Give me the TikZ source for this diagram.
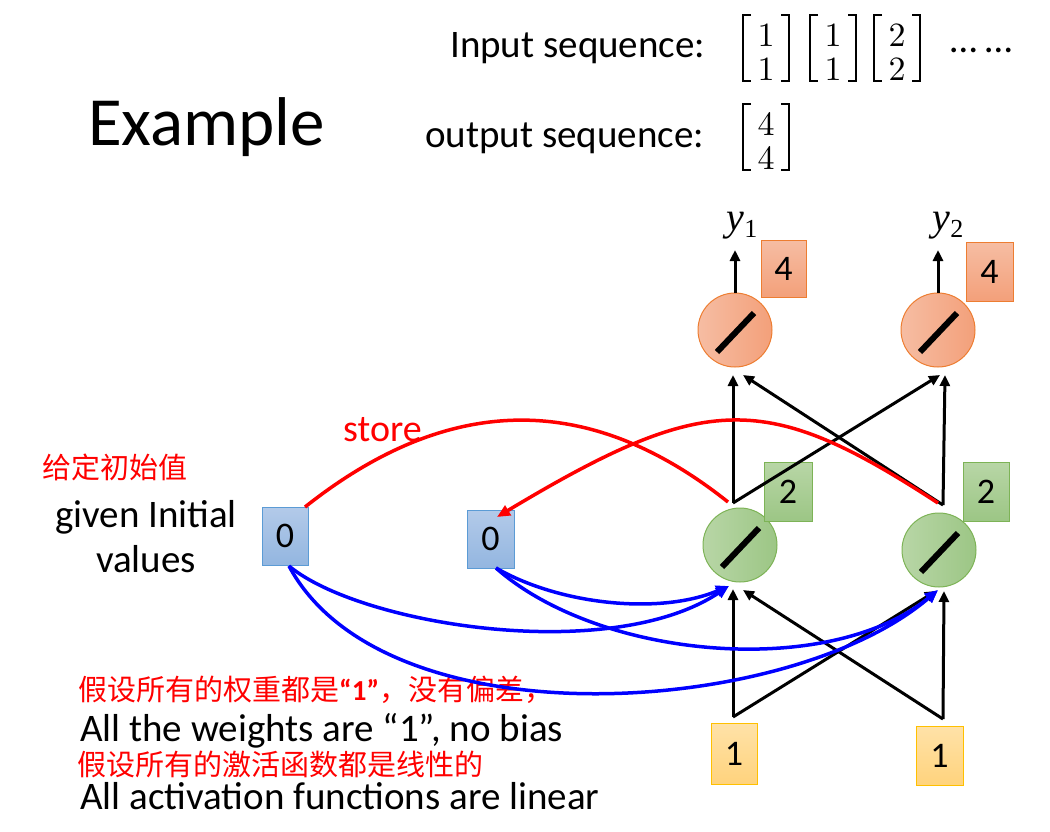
\documentclass[tikz,border=0pt]{standalone}
\usepackage{fontspec}
\setmainfont{Carlito}
\newfontfamily\cjk{Noto Sans CJK SC}
\newfontfamily\tms{Liberation Serif}
\newfontfamily\lmr{lmroman10-regular}[Extension=.otf]
\usetikzlibrary{arrows.meta}
\definecolor{orgL}{HTML}{F6BDA3}
\definecolor{orgR}{HTML}{F3A07A}
\definecolor{orgD}{HTML}{ED7D31}
\definecolor{grnL}{HTML}{B8D6A6}
\definecolor{grnR}{HTML}{9CC685}
\definecolor{grnD}{HTML}{7DB356}
\definecolor{bluL}{HTML}{B3CAE9}
\definecolor{bluR}{HTML}{93B6E0}
\definecolor{bluD}{HTML}{5B9BD5}
\definecolor{yelL}{HTML}{FFE2A8}
\definecolor{yelR}{HTML}{FFD37D}
\definecolor{yelD}{HTML}{FFC000}
\newcommand\myfs[2]{\fontsize{#1}{#2}\selectfont}
\newcommand\mtx[5]{%
  \node[dig] (#1) at (#2,{#3+32}) {#4\\#5};
  \draw[brk] ({#2-15},{#3-33}) -- ({#2-23},{#3-33}) -- ({#2-23},{#3+33}) -- ({#2-15},{#3+33});
  \draw[brk] ({#2+15},{#3-33}) -- ({#2+23},{#3-33}) -- ({#2+23},{#3+33}) -- ({#2+15},{#3+33});
}
\begin{document}
\begin{tikzpicture}[x=1pt,y=-1pt,
  dig/.style={inner sep=0pt, align=center, anchor=base, font=\lmr\myfs{34}{34}},
  brk/.style={line width=2.4pt},
  txt/.style={inner sep=0pt, font=\myfs{39}{46}},
  redtxt/.style={inner sep=0pt, text=red, font=\cjk\myfs{29}{34}},
  neuron/.style={circle, minimum size=74pt, inner sep=0pt, line width=1pt},
  onode/.style={neuron, draw=orgD, left color=orgL, right color=orgR},
  gnode/.style={neuron, draw=grnD, left color=grnL, right color=grnR},
  valbox/.style={rectangle, inner sep=0pt, minimum width=46pt, minimum height=58pt, line width=1pt, font=\myfs{36}{36}},
  obox/.style={valbox, draw=orgD, top color=orgL, bottom color=orgR},
  gbox/.style={valbox, draw=grnD, top color=grnL, bottom color=grnR},
  bbox/.style={valbox, draw=bluD, top color=bluL, bottom color=bluR},
  ybox/.style={valbox, draw=yelD, top color=yelL, bottom color=yelR},
  slash/.style={line width=6pt},
  arr/.style={line width=3pt, -{Triangle[length=11pt,width=10pt]}},
  bluearr/.style={blue, line width=3.5pt, -{Triangle[length=13pt,width=11pt]}},
  redline/.style={red, line width=3.5pt},
  redarr/.style={redline, -{Triangle[length=13pt,width=11pt]}},
  ylab/.style={inner sep=0pt, anchor=base, font=\tms\myfs{40}{40}}
]
\useasboundingbox (0,0) rectangle (1050,831);

% header
\node[inner sep=0pt, anchor=base west, font=\myfs{69}{80}] (ex) at (88,145) {Example};
\node[txt, anchor=base west] (inseq) at (450,57) {Input sequence:};
\node[txt, anchor=base west] (outseq) at (425,147) {output sequence:};
\mtx{ma}{766}{48}{1}{1}
\mtx{mb}{833}{48}{1}{1}
\mtx{mc}{897}{48}{2}{2}
\node[txt, anchor=base west] (dots) at (950,52) {… …};
\mtx{md}{766}{137}{4}{4}

% left texts
\node[redtxt, anchor=west] (cn1) at (42,467) {给定初始值};
\node[txt, anchor=base] (given) at (146,527) {given Initial};
\node[txt, anchor=base] (values) at (146,572) {values};
\node[inner sep=0pt, anchor=base west, text=red, font=\myfs{38}{44}] (store) at (343,441) {store};
\node[redtxt, anchor=west] (cn2) at (78,690) {假设所有的权重都是{\rmfamily\bfseries “1”}，没有偏差，};
\node[txt, anchor=base west] (w) at (80,741) {All the weights are “1”, no bias};
\node[redtxt, anchor=west] (cn3) at (77,764) {假设所有的激活函数都是线性的};
\node[txt, anchor=base west] (act) at (80,809) {All activation functions are linear};

% neurons
\node[onode] (o1) at (735,330) {};
\node[onode] (o2) at (938,330) {};
\node[gnode] (g1) at (740,545) {};
\node[gnode] (g2) at (939,550) {};
\foreach \n in {o1,o2,g1,g2}
  \draw[slash] ([shift={(-18,22)}]\n.center) -- ([shift={(19,-17)}]\n.center);

% value boxes
\node[obox, minimum width=45pt, minimum height=57pt] (v4a) at (783.5,268.5) {4};
\node[obox, minimum width=47pt, minimum height=59pt] (v4b) at (989.5,271.5) {4};
\node[gbox, minimum width=48pt, minimum height=59pt] (v2a) at (788,491.5) {2};
\node[gbox, minimum width=46pt, minimum height=59pt] (v2b) at (986,491.5) {2};
\node[ybox, minimum width=46pt, minimum height=61pt] (x1) at (734,753.5) {1};
\node[ybox, minimum width=47pt, minimum height=59pt] (x2) at (939.5,755.5) {1};
\node[bbox, minimum width=46pt, minimum height=58pt] (z1) at (285,536) {0};
\node[bbox, minimum width=47pt, minimum height=58pt] (z2) at (490.5,539) {0};

% outputs
\node[ylab] (y1) at (742,230) {\textit{y}\raisebox{-7pt}{\myfs{26}{26}1}};
\node[ylab] (y2) at (948,230) {\textit{y}\raisebox{-7pt}{\myfs{26}{26}2}};
\coordinate (y1t) at (735,250);
\coordinate (y2t) at (938,250);
\draw[arr] (o1.north) -- (y1t);
\draw[arr] (o2.north) -- (y2t);

% input -> hidden
\coordinate (x1v) at (733,717);
\coordinate (x2v) at (943,719);
\coordinate (g1a) at (733,589);
\coordinate (g1b) at (743,590);
\coordinate (g2a) at (936,591);
\coordinate (g2b) at (944,591);
\draw[arr] (x1v) -- (g1a);
\draw[arr] (x1v) -- (g2a);
\draw[arr] (x2v) -- (g2b);
\draw[arr] (x2v) -- (g1b);

% hidden -> output
\coordinate (h1v) at (733,503);
\coordinate (h2v) at (943,505);
\coordinate (o1a) at (733,375);
\coordinate (o1b) at (743,375);
\coordinate (o2a) at (940,375);
\coordinate (o2b) at (945,375);
\draw[arr] (h1v) -- (o1a);
\draw[arr] (h1v) -- (o2a);
\draw[arr] (h2v) -- (o2b);
\draw[arr] (h2v) -- (o1b);

% store curves
\coordinate (s1) at (305,507);
\coordinate (r1e) at (728,502);
\coordinate (s2) at (938,503);
\coordinate (r2e) at (497,517);
\draw[redline] (s1) .. controls (450,392) and (590,392) .. (r1e);
\draw[redarr] (s2) .. controls (766,391) and (707,391) .. (r2e);

% blue curves
\coordinate (b1) at (289,566);
\coordinate (b2) at (496,568);
\coordinate (t1) at (729,586);
\coordinate (t2) at (938,590);
\draw[bluearr] (b1) .. controls (360,625) and (610,665) .. (t1);
\draw[bluearr] (b1) .. controls (385,745) and (790,717) .. (t2);
\draw[bluearr] (b2) .. controls (560,605) and (660,615) .. (t1);
\draw[bluearr] (b2) .. controls (600,660) and (830,679) .. (t2);
\end{tikzpicture}
\end{document}
